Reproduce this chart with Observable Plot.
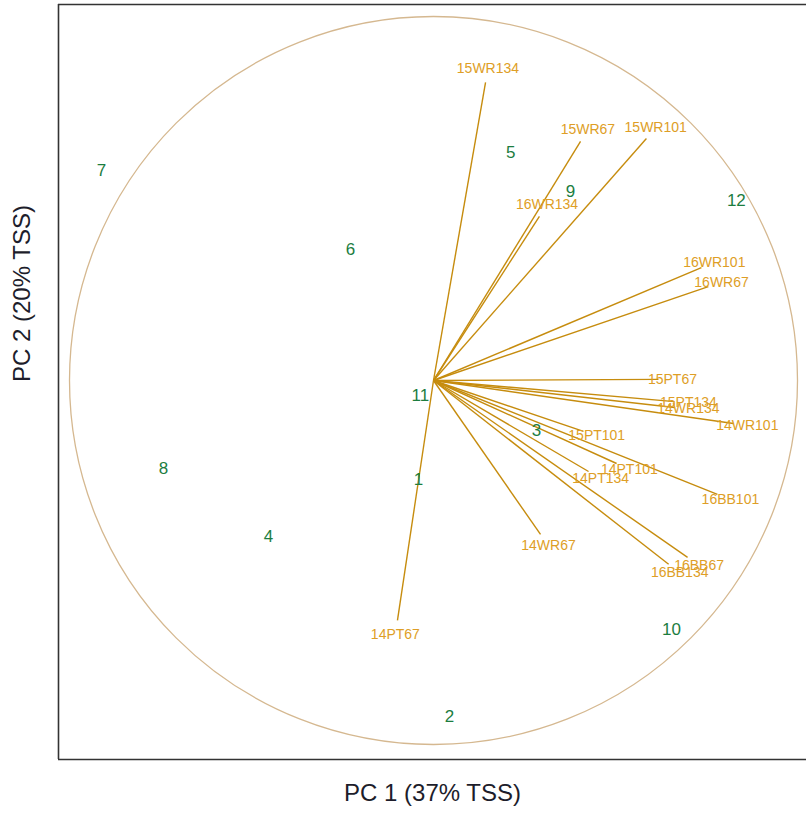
<!DOCTYPE html>
<html>
<head>
<meta charset="utf-8">
<script src="https://cdn.jsdelivr.net/npm/d3@7"></script>
<script src="https://cdn.jsdelivr.net/npm/@observablehq/plot@0.6"></script>
<style>
  html, body { margin: 0; padding: 0; background: #fff; }
  #chart svg { display: block; font-family: "Liberation Sans", Arial, sans-serif; }
</style>
</head>
<body>
<div id="chart"></div>
<script>
// Variable loadings (correlation circle, PC1 / PC2)
const varNames = ["15WR134", "15WR67", "15WR101", "16WR134", "16WR101", "16WR67",
  "15PT67", "15PT134", "14WR134", "14WR101", "15PT101", "14PT101", "14PT134",
  "16BB101", "14WR67", "16BB67", "16BB134", "14PT67"];
const varPC1 = [0.143, 0.404, 0.585, 0.291, 0.736, 0.755,
  0.618, 0.662, 0.662, 0.824, 0.412, 0.503, 0.426,
  0.780, 0.294, 0.698, 0.646, -0.099];
const varPC2 = [0.819, 0.657, 0.665, 0.451, 0.310, 0.258,
  0.003, -0.058, -0.074, -0.118, -0.140, -0.228, -0.250,
  -0.313, -0.423, -0.486, -0.505, -0.659];

// Site scores
const siteNames = ["7", "5", "9", "12", "6", "11", "3", "8", "1", "4", "10", "2"];
const sitePC1 = [-0.912, 0.212, 0.376, 0.832, -0.228, -0.036, 0.283, -0.742, -0.041, -0.453, 0.654, 0.044];
const sitePC2 = [0.577, 0.626, 0.519, 0.495, 0.360, -0.041, -0.137, -0.242, -0.272, -0.429, -0.684, -0.923];

const xTitle = "PC 1 (37% TSS)";
const yTitle = "PC 2 (20% TSS)";

const W = 806, H = 820;
const mL = 58, mT = 4, mB = 61, mR = 0;
const unitPx = 364;               // pixels per unit of loading
const cx = 433, cy = 380;         // pixel position of the origin
const xDomain = [(mL - cx) / unitPx, (W - mR - cx) / unitPx];
const yDomain = [(cy - (H - mB)) / unitPx, (cy - mT) / unitPx];

const loadings = varNames.map((name, i) => {
  const x = varPC1[i], y = varPC2[i];
  const len = Math.hypot(x, y);
  const off = 14 / unitPx;        // label sits just beyond the arrow tip
  return {name, x, y, lx: x + off * x / len, ly: y + off * y / len};
});
const sites = siteNames.map((name, i) => ({name, x: sitePC1[i], y: sitePC2[i]}));

const arrowColor = "#C68C0E";
const labelColor = "#DE9E26";
const siteColor = "#1C7D3F";

const chart = Plot.plot({
  width: W,
  height: H,
  marginLeft: mL,
  marginRight: mR,
  marginTop: mT,
  marginBottom: mB,
  x: {domain: xDomain, axis: null},
  y: {domain: yDomain, axis: null},
  style: {fontFamily: "Liberation Sans, Arial, sans-serif", background: "#fff"},
  marks: [
    // unit correlation circle
    Plot.dot([{x: 0, y: 0}], {x: "x", y: "y", r: unitPx, stroke: "#D5B890", strokeWidth: 1.3, fill: "none"}),
    // loading arrows
    Plot.link(loadings, {x1: 0, y1: 0, x2: "x", y2: "y", stroke: arrowColor, strokeWidth: 1.4}),
    Plot.text(loadings, {x: "lx", y: "ly", text: "name", fill: labelColor, fontSize: 14}),
    // site scores
    Plot.text(sites, {x: "x", y: "y", text: "name", fill: siteColor, fontSize: 17}),
    // plot box (left, top, bottom)
    Plot.ruleX([xDomain[0]], {stroke: "#333", strokeWidth: 1.6}),
    Plot.ruleY([yDomain[0], yDomain[1]], {stroke: "#333", strokeWidth: 1.6}),
    // axis titles
    Plot.text([xTitle], {frameAnchor: "bottom", dy: 41, fontSize: 24, fill: "#1d1d2b"}),
    Plot.text([yTitle], {frameAnchor: "left", dx: -36, rotate: -90, fontSize: 24, fill: "#1d1d2b"})
  ]
});

document.getElementById("chart").appendChild(chart);
</script>
</body>
</html>
